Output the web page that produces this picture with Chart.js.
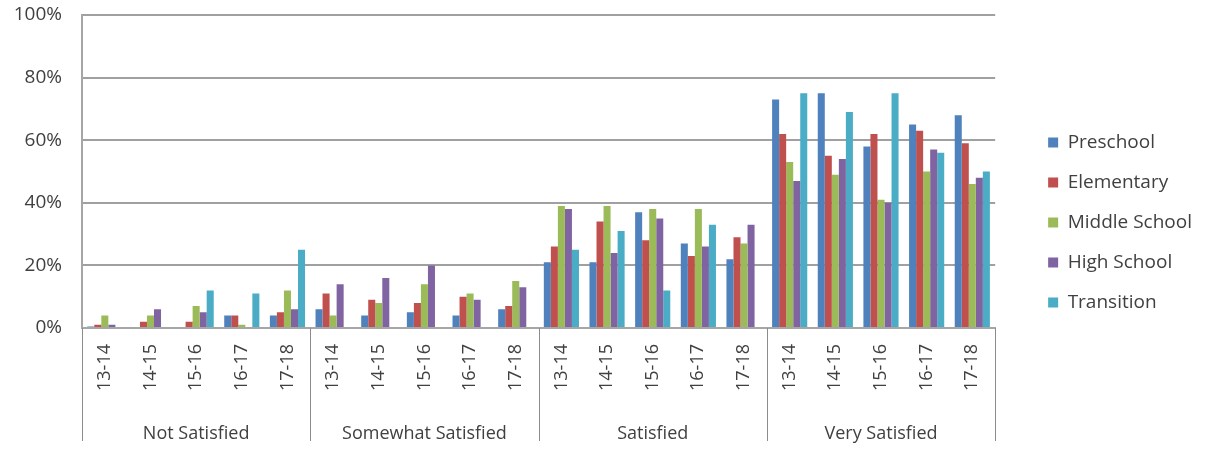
<!DOCTYPE html>
<html>
<head>
<meta charset="utf-8">
<script src="https://cdn.jsdelivr.net/npm/chart.js@4"></script>
<style>
html,body{margin:0;padding:0;background:#fff;}
#wrap{width:1214px;height:455px;position:relative;}
</style>
</head>
<body>
<div id="wrap"><canvas id="c"></canvas></div>
<script>
const groups = ["Not Satisfied", "Somewhat Satisfied", "Satisfied", "Very Satisfied"];
const years = ["13-14", "14-15", "15-16", "16-17", "17-18"];
const seriesNames = ["Preschool", "Elementary", "Middle School", "High School", "Transition"];
const seriesColors = ["#4F81BD", "#C0504D", "#9BBB59", "#8064A2", "#4BACC6"];
const yTicks = [0, 20, 40, 60, 80, 100];

// values (%) in order: Not Satisfied x5 years, Somewhat x5, Satisfied x5, Very x5
const preschool  = [0.5, 0, 0, 4, 4,   6, 4, 5, 4, 6,   21, 21, 37, 27, 22,   73, 75, 58, 65, 68];
const elementary = [1, 2, 2, 4, 5,     11, 9, 8, 10, 7, 26, 34, 28, 23, 29,   62, 55, 62, 63, 59];
const middle     = [4, 4, 7, 1, 12,    4, 8, 14, 11, 15, 39, 39, 38, 38, 27,  53, 49, 41, 50, 46];
const high       = [1, 6, 5, 0, 6,     14, 16, 20, 9, 13, 38, 24, 35, 26, 33, 47, 54, 40, 57, 48];
const transition = [0, 0, 12, 11, 25,  0, 0, 0, 0, 0,    25, 31, 12, 33, 0,   75, 69, 75, 56, 50];

const allSeries = [preschool, elementary, middle, high, transition];
const labels = [];
groups.forEach(() => years.forEach(y => labels.push(y)));

const separators = {
  id: 'separators',
  afterDraw(chart) {
    const x = chart.scales.x, x2 = chart.scales.x2, ctx = chart.ctx;
    const n = labels.length;
    const step = (x.getPixelForValue(1) - x.getPixelForValue(0));
    ctx.save();
    ctx.strokeStyle = '#8c8c8c';
    ctx.lineWidth = 1;
    for (let i = 0; i <= n; i += years.length) {
      const px = Math.round(x.getPixelForValue(i) - step / 2) + 0.5;
      ctx.beginPath();
      ctx.moveTo(px, chart.chartArea.bottom);
      ctx.lineTo(px, x2.bottom - 4);
      ctx.stroke();
    }
    ctx.restore();
  }
};

const font = 'Open Sans';
new Chart(document.getElementById('c'), {
  type: 'bar',
  data: {
    labels: labels,
    datasets: seriesNames.map((name, i) => ({
      label: name,
      data: allSeries[i],
      backgroundColor: seriesColors[i],
      borderWidth: 0,
      categoryPercentage: 0.77,
      barPercentage: 1.0,
      yAxisID: 'y'
    }))
  },
  options: {
    responsive: true,
    maintainAspectRatio: false,
    animation: false,
    layout: { padding: { top: 0, right: 12, left: 0, bottom: 10 } },
    plugins: {
      tooltip: { enabled: false },
      legend: {
        position: 'right',
        labels: { boxWidth: 10, boxHeight: 10, padding: 21, color: '#404040', font: { family: font, size: 19 } }
      }
    },
    scales: {
      x: {
        grid: { display: false },
        border: { display: true, color: '#a6a6a6', width: 2 },
        ticks: { minRotation: 90, maxRotation: 90, autoSkip: false, color: '#404040', font: { family: font, size: 18 }, padding: 8 },
        afterFit(scale) { scale.height = 65; }
      },
      x2: {
        type: 'category',
        labels: groups,
        position: 'bottom',
        offset: true,
        grid: { display: false },
        border: { display: false },
        ticks: { minRotation: 0, maxRotation: 0, autoSkip: false, color: '#404040', font: { family: font, size: 18 }, padding: 22 },
        afterFit(scale) { scale.height = 52; }
      },
      y: {
        min: 0, max: 100,
        afterBuildTicks(scale) { scale.ticks = yTicks.map(v => ({ value: v })); },
        grid: { color: '#a0a0a0', lineWidth: 2, drawTicks: false },
        border: { display: true, color: '#a6a6a6', width: 2 },
        ticks: { callback: v => v + '%', color: '#404040', font: { family: font, size: 19 }, padding: 20 },
        afterFit(scale) { scale.width = 82; scale.paddingTop = 15; scale.paddingBottom = 0; }
      },
      spacer: {
        type: 'linear', position: 'right', display: true,
        grid: { display: false, drawOnChartArea: false },
        border: { display: false },
        ticks: { display: false },
        afterFit(scale) { scale.width = 32; scale.paddingTop = 0; scale.paddingBottom = 0; }
      }
    }
  },
  plugins: [separators]
});
</script>
</body>
</html>
